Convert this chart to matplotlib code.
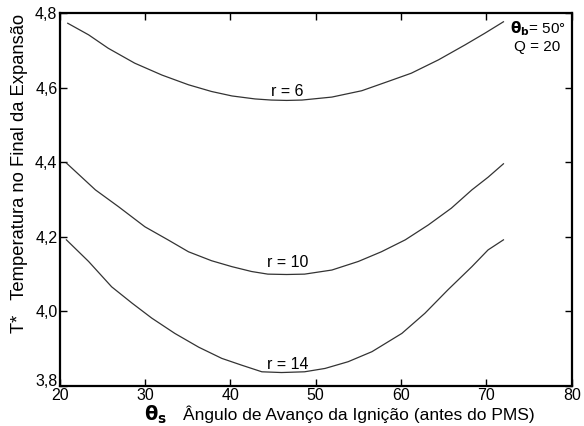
import matplotlib
matplotlib.use("Agg")
import matplotlib.pyplot as plt

plt.rcParams['font.family'] = ['Liberation Sans', 'DejaVu Sans']

# r = 6
x_r6 = [20.96, 23.4, 25.7, 28.8, 32.0, 35.1, 37.8, 40.2, 42.9, 44.8, 46.6, 48.4, 51.9, 55.4, 58.5, 61.2, 64.4, 67.5, 69.8, 72.0]
T_r6 = [4.773, 4.742, 4.706, 4.666, 4.634, 4.608, 4.590, 4.578, 4.570, 4.567, 4.566, 4.567, 4.575, 4.592, 4.617, 4.639, 4.675, 4.715, 4.746, 4.777]
# r = 10
x_r10 = [20.8, 24.2, 26.9, 30.0, 32.7, 35.1, 37.8, 40.2, 42.5, 44.4, 46.6, 48.7, 51.9, 55.0, 57.7, 60.5, 63.2, 65.9, 68.3, 70.2, 72.0]
T_r10 = [4.398, 4.326, 4.281, 4.227, 4.192, 4.160, 4.136, 4.120, 4.107, 4.100, 4.099, 4.100, 4.111, 4.134, 4.160, 4.192, 4.232, 4.277, 4.326, 4.360, 4.396]
# r = 14
x_r14 = [20.8, 23.4, 26.1, 28.5, 30.8, 33.5, 36.3, 39.0, 41.3, 43.7, 46.0, 48.7, 51.1, 53.8, 56.6, 60.1, 62.8, 65.5, 68.3, 70.2, 72.0]
T_r14 = [4.192, 4.134, 4.066, 4.022, 3.982, 3.941, 3.904, 3.874, 3.856, 3.838, 3.836, 3.838, 3.847, 3.865, 3.892, 3.941, 3.995, 4.058, 4.120, 4.165, 4.192]

series = [("r = 6", x_r6, T_r6, 4.591), ("r = 10", x_r10, T_r10, 4.132), ("r = 14", x_r14, T_r14, 3.857)]

xticks = [20, 30, 40, 50, 60, 70, 80]
yticks = [3.8, 4.0, 4.2, 4.4, 4.6, 4.8]
ytick_labels = ["3,8", "4,0", "4,2", "4,4", "4,6", "4,8"]

fig = plt.figure(figsize=(5.84, 4.26), dpi=100)
ax = fig.add_axes([0.102, 0.094, 0.877, 0.875])

for label, xs, vals, ly in series:
    ax.plot(xs, vals, color='#333333', lw=0.9)
    ax.text(46.7, ly, label, ha='center', va='center', fontsize=11.5)

ax.set_xlim(20, 80)
ax.set_ylim(3.8, 4.8)
ax.set_xticks(xticks)
ax.set_xticklabels([str(v) for v in xticks])
ax.set_yticks(yticks)
ax.set_yticklabels(ytick_labels)
ax.tick_params(direction='in', top=True, right=True, labelsize=11.5, length=5, width=1, pad=1.5)
ax.get_yticklabels()[0].set_verticalalignment('baseline')
for s in ax.spines.values():
    s.set_linewidth(1.6)

ax.text(76.0, 4.758, r"$\mathbf{\theta_b}$= 50°", ha='center', va='center', fontsize=11)
ax.text(76.0, 4.709, "Q = 20", ha='center', va='center', fontsize=11)

fig.text(0.267, 0.027, r"$\mathbf{\theta_s}$", ha='center', va='center', fontsize=14)
fig.text(0.615, 0.027, "Ângulo de Avanço da Ignição (antes do PMS)", ha='center', va='center', fontsize=12.5)
fig.text(0.034, 0.594, "T*   Temperatura no Final da Expansão", ha='center', va='center', rotation=90, fontsize=13.2)

fig.savefig("out.png", dpi=100)
